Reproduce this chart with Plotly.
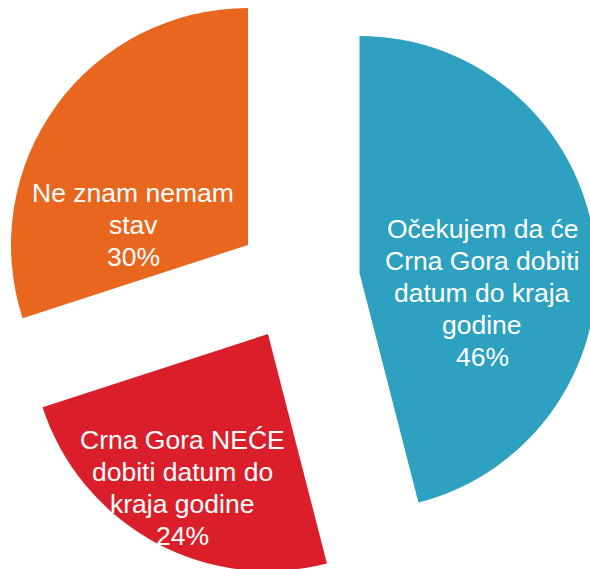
import plotly.graph_objects as go

labels = ["Očekujem da će<br>Crna Gora dobiti<br>datum do kraja<br>godine",
          "Crna Gora NEĆE<br>dobiti datum do<br>kraja godine",
          "Ne znam nemam<br>stav"]
values = [46, 24, 30]
colors = ["#2DA1BF", "#DA1F2A", "#E9661F"]

W, H = 600, 580
R = 237
LINE = 32  # px between text lines
# slice centres in px (each slice is exploded away from the middle)
centres = [(359.5, 273), (268, 334), (248, 245)]
# text block centres in px
text_pos = [(482, 293), (182, 488), (133, 225)]


def clamp(v):
    return min(max(v, 0), 1)


fig = go.Figure()
for i, (cx, cy) in enumerate(centres):
    cols = ["rgba(0,0,0,0)"] * len(values)
    cols[i] = colors[i]
    fig.add_trace(go.Pie(
        values=values,
        labels=labels,
        marker=dict(colors=cols, line=dict(width=0)),
        sort=False,
        direction="clockwise",
        rotation=0,
        textinfo="none",
        hoverinfo="skip",
        showlegend=False,
        domain=dict(x=[clamp((cx - R) / W), clamp((cx + R) / W)],
                    y=[clamp(1 - (cy + R) / H), clamp(1 - (cy - R) / H)]),
    ))

for i, (tx, ty) in enumerate(text_pos):
    lines = labels[i].split("<br>") + [f"{values[i]}%"]
    top = ty - LINE * (len(lines) - 1) / 2
    for k, line in enumerate(lines):
        fig.add_annotation(
            x=tx / W, y=1 - (top + k * LINE) / H, xref="paper", yref="paper",
            xanchor="center", yanchor="middle",
            text=line,
            showarrow=False,
            font=dict(family="Liberation Sans, Arial", size=26.5, color="white"),
        )

fig.update_layout(
    width=W, height=H,
    margin=dict(l=0, r=0, t=0, b=0),
    paper_bgcolor="white",
    plot_bgcolor="white",
)

fig.write_html(
    "out.html",
    config={"displayModeBar": False},
    post_script="document.body.style.margin='0';"
                "document.body.style.overflow='hidden';"
                "document.documentElement.style.overflow='hidden';",
)
